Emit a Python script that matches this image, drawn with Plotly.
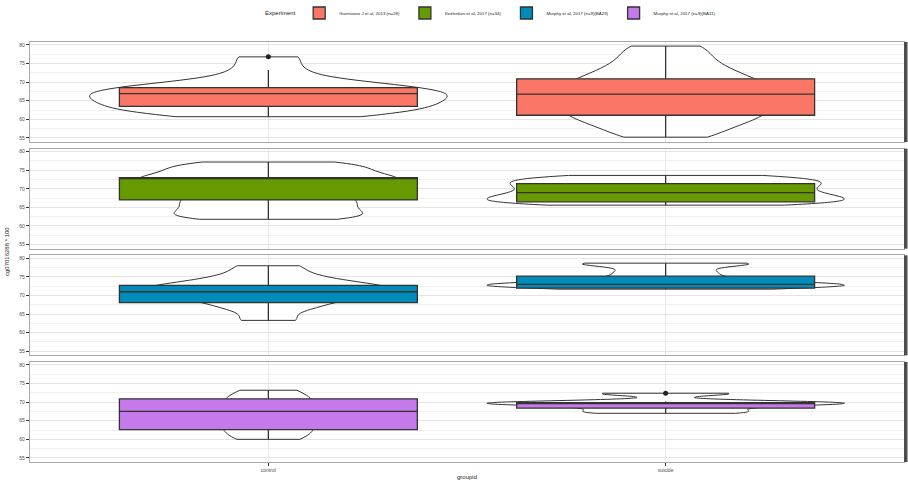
import plotly.graph_objects as go
from plotly.subplots import make_subplots

groups = ["control", "suicide"]
experiments = [
    "Guintivano J et al, 2013 (n=28)",
    "Kozlenkov et al, 2017 (n=34)",
    "Murphy et al, 2017 (n=9)(BA29)",
    "Murphy et al, 2017 (n=9)(BA11)",
]
fill_colors = ["#FA7767", "#669A00", "#008BB8", "#C47AEB"]

# estimated individual values (cg07016288 * 100) per experiment and group
guintivano_control = [60.7, 61.4, 62.2, 63.0, 63.5, 64.2, 65.0, 65.6, 66.2, 66.9, 67.4, 68.0, 68.5, 69.3, 70.4, 73.3, 76.8]
guintivano_suicide = [55.2, 57.5, 59.3, 60.6, 61.8, 63.0, 64.2, 65.3, 66.3, 67.3, 68.4, 69.6, 70.9, 72.4, 74.3, 76.8, 79.7]
kozlenkov_control = [61.8, 62.6, 63.5, 64.5, 65.6, 66.6, 67.6, 68.8, 69.9, 70.9, 71.7, 72.4, 72.9, 73.6, 74.5, 75.4, 76.3, 77.2]
kozlenkov_suicide = [65.6, 65.8, 66.2, 66.6, 67.0, 67.4, 67.7, 68.1, 68.6, 69.0, 69.5, 70.0, 70.5, 71.0, 71.4, 71.8, 72.3, 72.8, 73.2, 73.6]
murphy29_control = [63.3, 66.5, 68.1, 69.5, 70.5, 71.0, 71.5, 72.3, 72.8, 73.8, 75.5, 78.0]
murphy29_suicide = [71.7, 72.1, 72.4, 72.6, 72.8, 73.0, 73.2, 73.5, 74.1, 75.0, 76.0, 77.0, 78.5, 78.6, 78.7]
murphy11_control = [60.0, 61.0, 62.4, 63.8, 65.2, 66.5, 67.8, 69.1, 70.4, 71.8, 73.2]
murphy11_suicide = [67.0, 67.3, 68.0, 68.6, 69.3, 69.5, 69.7, 69.8, 70.0, 70.2, 72.2, 72.4]

samples = [
    [guintivano_control, guintivano_suicide],
    [kozlenkov_control, kozlenkov_suicide],
    [murphy29_control, murphy29_suicide],
    [murphy11_control, murphy11_suicide],
]
bandwidths = [[1.8, 2.0], [1.2, 1.0], [1.5, 0.8], [2.2, 0.6]]
violin_widths = [[0.9, 0.58], [0.65, 0.9], [0.63, 0.9], [0.24, 0.9]]

# box statistics: [control, suicide]
box_q1 = [[63.5, 61.1], [67.0, 66.5], [68.1, 72.0], [62.6, 68.4]]
box_median = [[66.9, 66.8], [72.9, 69.0], [71.0, 73.0], [67.5, 69.6]]
box_q3 = [[68.5, 70.9], [73.0, 71.4], [72.7, 75.2], [70.9, 69.9]]
box_low = [[60.7, 55.2], [61.8, 65.6], [63.3, 71.7], [60.0, 67.0]]
box_high = [[73.3, 79.7], [77.2, 73.6], [78.0, 78.7], [73.2, 70.2]]

# outliers: (panel index, group, value)
outlier_panel = [0, 3]
outlier_group = ["control", "suicide"]
outlier_value = [76.8, 72.4]

y_ticks = [55, 60, 65, 70, 75, 80]
y_range = [53.9, 80.8]

fig = make_subplots(rows=4, cols=1, shared_xaxes=True, vertical_spacing=0.0159)

for i, exp in enumerate(experiments):
    row = i + 1
    for j, g in enumerate(groups):
        vals = samples[i][j]
        fig.add_trace(go.Violin(
            x=[g] * len(vals), y=vals, spanmode="hard", bandwidth=bandwidths[i][j],
            width=violin_widths[i][j], scalemode="width", scalegroup=f"v{i}{j}",
            fillcolor="white", line=dict(color="#333333", width=1),
            points=False, showlegend=False, hoverinfo="skip", name=exp,
        ), row=row, col=1)
    fig.add_trace(go.Box(
        x=groups, q1=box_q1[i], median=box_median[i], q3=box_q3[i],
        lowerfence=box_low[i], upperfence=box_high[i],
        fillcolor=fill_colors[i], line=dict(color="#333333", width=1.3),
        whiskerwidth=0, width=0.75, boxpoints=False, name=exp, legendgroup=exp,
        showlegend=True,
    ), row=row, col=1)

for p, g, v in zip(outlier_panel, outlier_group, outlier_value):
    fig.add_trace(go.Scatter(
        x=[g], y=[v], mode="markers", marker=dict(color="#222222", size=5),
        showlegend=False, hoverinfo="skip",
    ), row=p + 1, col=1)

for r in range(1, 5):
    fig.update_yaxes(
        range=y_range, tickvals=y_ticks, ticks="outside", ticklen=3, tickcolor="#333333",
        tickfont=dict(size=5, color="#4d4d4d"), showgrid=True, gridcolor="#e4e4e4", gridwidth=1,
        minor=dict(dtick=2.5, tick0=55, showgrid=True, gridcolor="#f0f0f0", gridwidth=1),
        showline=True, linecolor="#a8a8a8", linewidth=1.2, mirror=True, zeroline=False,
        row=r, col=1,
    )
    fig.update_xaxes(
        type="category", categoryorder="array", categoryarray=groups, range=[-0.6, 1.6],
        showgrid=True, gridcolor="#e8e8e8", showline=True, linecolor="#a8a8a8", linewidth=1.2,
        mirror=True, zeroline=False, ticks="outside" if r == 4 else "", ticklen=3,
        tickcolor="#333333", tickfont=dict(size=5, color="#4d4d4d"), showticklabels=(r == 4),
        row=r, col=1,
    )

# right-hand facet strips (dark edge)
for r in range(1, 5):
    yref = "y domain" if r == 1 else f"y{r} domain"
    fig.add_shape(type="rect", xref="paper", yref=yref, x0=1.0, x1=1.004, y0=0, y1=1,
                  fillcolor="#4d4d4d", line=dict(width=0), layer="above")

fig.add_annotation(text="cg07016288 * 100", xref="paper", yref="paper", x=-0.032, y=0.5,
                   textangle=-90, showarrow=False, font=dict(size=6, color="#222222"))
fig.add_annotation(text="groupid", xref="paper", yref="paper", x=0.5, y=-0.047,
                   showarrow=False, font=dict(size=6, color="#222222"))
fig.add_annotation(text="Experiment", xref="paper", yref="paper", x=0.287, y=1.069,
                   xanchor="center", yanchor="middle", showarrow=False,
                   font=dict(size=6, color="#222222"))

fig.update_layout(
    width=908, height=481, margin=dict(l=30, r=4, t=42, b=19, autoexpand=False),
    paper_bgcolor="white", plot_bgcolor="white",
    font=dict(family="Liberation Sans, Arial, sans-serif", size=5, color="#222222"),
    violinmode="overlay", boxmode="overlay",
    legend=dict(orientation="h", x=0.308, xanchor="left", y=1.069, yanchor="middle",
                font=dict(size=4.4), itemwidth=30, tracegroupgap=0),
)

fig.write_html("out.html")
